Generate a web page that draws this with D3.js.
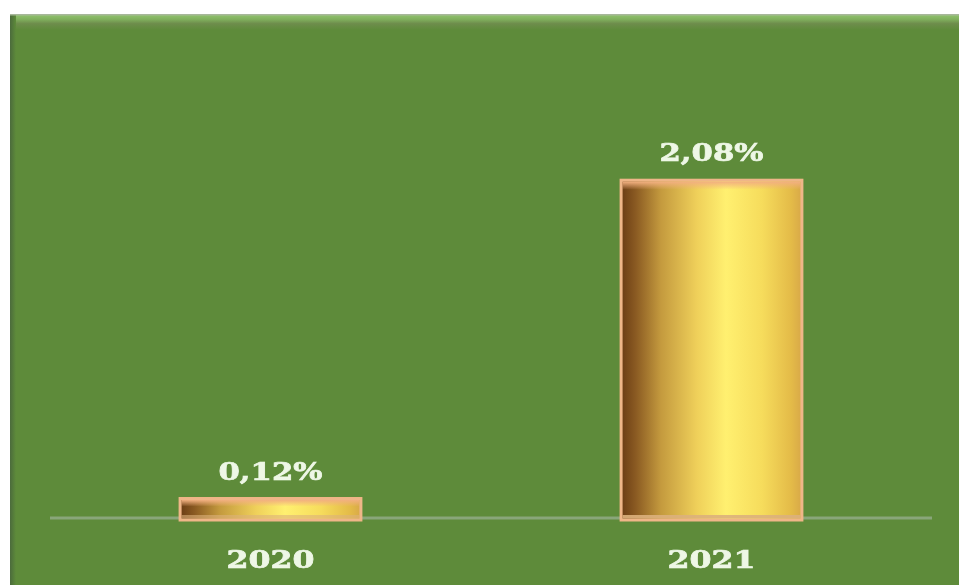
<!DOCTYPE html>
<html>
<head>
<meta charset="utf-8">
<script src="https://cdn.jsdelivr.net/npm/d3@7/dist/d3.min.js"></script>
<style>
  html, body { margin: 0; padding: 0; background: #ffffff; }
  svg { display: block; }
</style>
</head>
<body>
<svg id="chart" width="959" height="585"></svg>
<script>
// Data
const years = ["2020", "2021"];
const rates = [0.12, 2.08];
const valueLabels = ["0,12%", "2,08%"];

const svg = d3.select("#chart");
const W = 959, H = 585;
const defs = svg.append("defs");

// Panel shading
const panelGrad = defs.append("linearGradient")
  .attr("id", "panelTop").attr("x1", 0).attr("y1", 0).attr("x2", 0).attr("y2", 1);
panelGrad.append("stop").attr("offset", "0%").attr("stop-color", "#94c772");
panelGrad.append("stop").attr("offset", "35%").attr("stop-color", "#7fae5c");
panelGrad.append("stop").attr("offset", "60%").attr("stop-color", "#6e8d4c");
panelGrad.append("stop").attr("offset", "100%").attr("stop-color", "#5e8b3a");

const leftGrad = defs.append("linearGradient")
  .attr("id", "panelLeft").attr("x1", 0).attr("y1", 0).attr("x2", 1).attr("y2", 0);
leftGrad.append("stop").attr("offset", "0%").attr("stop-color", "#4b6b3c");
leftGrad.append("stop").attr("offset", "100%").attr("stop-color", "#5e8b3a");

// Bar cylinder shading
const barGrad = defs.append("linearGradient")
  .attr("id", "barFill").attr("x1", 0).attr("y1", 0).attr("x2", 1).attr("y2", 0);
[
  ["0%", "#6a3c14"],
  ["8%", "#8a5a22"],
  ["22%", "#c49a3e"],
  ["42%", "#efd05a"],
  ["58%", "#fff070"],
  ["78%", "#f6dc5c"],
  ["94%", "#e4bb48"],
  ["100%", "#d8a848"]
].forEach(([o, c]) => barGrad.append("stop").attr("offset", o).attr("stop-color", c));

const capGrad = defs.append("linearGradient")
  .attr("id", "capFill").attr("x1", 0).attr("y1", 0).attr("x2", 0).attr("y2", 1);
capGrad.append("stop").attr("offset", "0%").attr("stop-color", "#f2b080");
capGrad.append("stop").attr("offset", "100%").attr("stop-color", "#f2b080").attr("stop-opacity", 0);

const soft = defs.append("filter").attr("id", "soft")
  .attr("x", "-10%").attr("y", "-30%").attr("width", "120%").attr("height", "160%");
soft.append("feGaussianBlur").attr("stdDeviation", 0.45);

// Background panel
const panel = { x: 10, y: 14, w: W - 10, h: H - 14 };
svg.append("rect").attr("x", panel.x).attr("y", panel.y)
  .attr("width", panel.w).attr("height", panel.h).attr("fill", "#5e8b3a");
svg.append("rect").attr("x", panel.x).attr("y", panel.y)
  .attr("width", panel.w).attr("height", 16).attr("fill", "url(#panelTop)");
svg.append("rect").attr("x", panel.x).attr("y", panel.y)
  .attr("width", 6).attr("height", panel.h).attr("fill", "url(#panelLeft)");
svg.append("rect").attr("x", panel.x).attr("y", panel.y)
  .attr("width", panel.w).attr("height", 1.5).attr("fill", "#a7b79a");

// Scales
const x = d3.scaleBand().domain(years).range([50, 932])
  .paddingInner(0.59).paddingOuter(0.295);
const y = d3.scaleLinear().domain([0, 2.5]).range([518, 112]);

// Baseline
svg.append("line")
  .attr("x1", 50).attr("x2", 932)
  .attr("y1", y(0)).attr("y2", y(0))
  .attr("stroke", "#89a67a").attr("stroke-width", 3);

// Bars
const bars = svg.append("g").selectAll("g").data(years).join("g");
bars.append("rect")
  .attr("x", d => x(d))
  .attr("y", (d, i) => y(rates[i]))
  .attr("width", x.bandwidth())
  .attr("height", (d, i) => y(0) - y(rates[i]) + 2)
  .attr("fill", "url(#barFill)")
  .attr("stroke", "#efb688")
  .attr("stroke-width", 3);
// top rim
bars.append("rect")
  .attr("x", d => x(d) + 1.5)
  .attr("y", (d, i) => y(rates[i]) + 1.5)
  .attr("width", x.bandwidth() - 3)
  .attr("height", (d, i) => Math.min(8, (y(0) - y(rates[i])) / 3))
  .attr("fill", "url(#capFill)");
// bottom rim
bars.append("rect")
  .attr("x", d => x(d) + 1.5)
  .attr("y", y(0) - 3)
  .attr("width", x.bandwidth() - 3)
  .attr("height", 3.5)
  .attr("fill", "#dcb07c")
  .attr("opacity", (d, i) => rates[i] > 0.5 ? 0.9 : 0.6);

// Value labels
svg.append("g").selectAll("text").data(years).join("text")
  .attr("x", d => x(d) + x.bandwidth() / 2)
  .attr("y", (d, i) => y(rates[i]) - 19)
  .attr("text-anchor", "middle")
  .attr("font-family", "DejaVu Serif")
  .attr("font-weight", "bold")
  .attr("font-size", 25)
  .attr("textLength", 104)
  .attr("lengthAdjust", "spacingAndGlyphs")
  .attr("fill", "#eef7e6")
  .attr("stroke", "#eef7e6")
  .attr("stroke-width", 0.7)
  .attr("filter", "url(#soft)")
  .text((d, i) => valueLabels[i]);

// Category axis labels
const axis = d3.axisBottom(x).tickSize(0).tickPadding(0);
const axisG = svg.append("g").attr("transform", `translate(0,${y(0) + 50})`).call(axis);
axisG.select(".domain").remove();
axisG.selectAll("text")
  .attr("dy", 0)
  .attr("font-family", "DejaVu Serif")
  .attr("font-weight", "bold")
  .attr("font-size", 25)
  .attr("textLength", 88)
  .attr("lengthAdjust", "spacingAndGlyphs")
  .attr("fill", "#eef7e6")
  .attr("stroke", "#eef7e6")
  .attr("stroke-width", 0.7)
  .attr("filter", "url(#soft)");
</script>
</body>
</html>
